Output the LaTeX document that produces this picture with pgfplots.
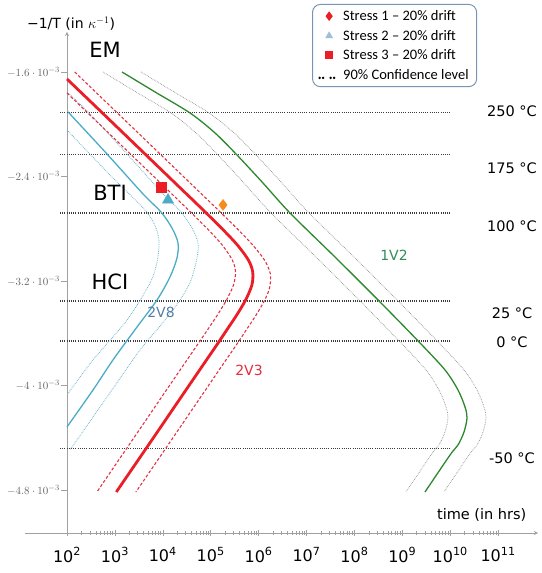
\documentclass[border=0pt]{standalone}
\usepackage{fontspec}
\setmainfont{DejaVu Sans}
\newfontfamily\carlito{Carlito}
\usepackage{pgfplots}
\pgfplotsset{compat=1.18}

\definecolor{redmain}{RGB}{235,30,40}
\definecolor{reddash}{RGB}{225,50,70}
\definecolor{tealmain}{RGB}{75,172,198}
\definecolor{tealdot}{RGB}{110,180,205}
\definecolor{greenmain}{RGB}{45,135,45}
\definecolor{greydot}{RGB}{140,140,140}
\definecolor{hlinec}{RGB}{60,60,60}
\definecolor{orangemk}{RGB}{245,140,30}
\definecolor{legtri}{RGB}{160,190,215}
\definecolor{lab2v8}{RGB}{85,125,170}
\definecolor{lab2v3}{RGB}{225,45,60}
\definecolor{lab1v2}{RGB}{50,140,90}
\definecolor{axisgrey}{RGB}{160,160,160}
\definecolor{labelgrey}{RGB}{100,100,100}
\definecolor{legborder}{RGB}{120,150,180}

\newcommand\fs[1]{\fontsize{#1}{#1}\selectfont}

\begin{document}
\begin{tikzpicture}
\useasboundingbox (-25pt,-40pt) rectangle (516pt,533pt);
\begin{axis}[
  scale only axis, width=513pt, height=501pt,
  xmin=1.123, xmax=11.833, ymin=-5.130, ymax=-1.294,
  axis x line=bottom, axis y line=left,
  axis y line shift=-42pt,
  axis line style={draw=axisgrey, line width=0.8pt},
  x axis line style={-stealth}, y axis line style={-stealth},
  xtick={2,...,11},
  xticklabels={10\textsuperscript{2},10\textsuperscript{3},10\textsuperscript{4},10\textsuperscript{5},10\textsuperscript{6},10\textsuperscript{7},10\textsuperscript{8},10\textsuperscript{9},10\textsuperscript{10},10\textsuperscript{11}},
  minor xtick={2.301,2.477,2.602,2.699,2.778,2.845,2.903,2.954,
    3.301,3.477,3.602,3.699,3.778,3.845,3.903,3.954,
    4.301,4.477,4.602,4.699,4.778,4.845,4.903,4.954,
    5.301,5.477,5.602,5.699,5.778,5.845,5.903,5.954,
    6.301,6.477,6.602,6.699,6.778,6.845,6.903,6.954,
    7.301,7.477,7.602,7.699,7.778,7.845,7.903,7.954,
    8.301,8.477,8.602,8.699,8.778,8.845,8.903,8.954,
    9.301,9.477,9.602,9.699,9.778,9.845,9.903,9.954,
    10.301,10.477,10.602,10.699,10.778,10.845,10.903,10.954},
  xtick align=center, ytick align=outside,
  major tick length=6pt, minor tick length=4pt,
  tick style={draw=axisgrey, line width=0.6pt},
  xticklabel style={font=\fs{16}, yshift=-8pt},
  ytick={-4.8,-4,-3.2,-2.4,-1.6},
  yticklabels={$-4.8\cdot10^{-3}$,$-4\cdot10^{-3}$,$-3.2\cdot10^{-3}$,$-2.4\cdot10^{-3}$,$-1.6\cdot10^{-3}$},
  yticklabel style={font=\fs{11}, text=labelgrey, inner xsep=1pt},
  clip=false,
  legend cell align=left,
  legend style={at={(axis cs:7.115,-1.079)}, anchor=north west,
    draw=legborder, line width=1pt, rounded corners=8pt,
    font=\carlito\fs{14.5}, row sep=4pt, inner xsep=6pt, inner ysep=4pt,
    /tikz/every odd column/.append style={column sep=6pt}},
]
% temperature levels
\addplot[hlinec, line width=1.3pt, dash pattern=on 1pt off 1.2pt, forget plot] coordinates {(1.854,-1.911) (10.017,-1.911)};
\addplot[hlinec, line width=1.3pt, dash pattern=on 1pt off 1.2pt, forget plot] coordinates {(1.854,-2.231) (10.017,-2.231)};
\addplot[hlinec, line width=1.3pt, dash pattern=on 1pt off 1.2pt, forget plot] coordinates {(1.854,-2.680) (10.017,-2.680)};
\addplot[hlinec, line width=1.3pt, dash pattern=on 1pt off 1.2pt, forget plot] coordinates {(1.854,-3.354) (10.017,-3.354)};
\addplot[hlinec, line width=1.3pt, dash pattern=on 1pt off 1.2pt, forget plot] coordinates {(1.854,-3.661) (10.017,-3.661)};
\addplot[hlinec, line width=1.3pt, dash pattern=on 1pt off 1.2pt, forget plot] coordinates {(1.854,-4.484) (10.017,-4.484)};

% 2V8
\addplot[tealdot, line width=0.8pt, densely dotted, smooth, forget plot] coordinates {
(2.000,-2.044)(2.898,-2.389)(3.628,-2.657)(3.858,-2.795)(3.921,-2.909)(3.879,-3.055)(3.733,-3.216)(3.253,-3.499)(2.543,-3.805)(2.000,-4.073)};
\addplot[tealdot, line width=0.8pt, densely dotted, smooth, forget plot] coordinates {
(2.000,-1.753)(2.438,-1.906)(3.253,-2.228)(4.004,-2.534)(4.380,-2.672)(4.610,-2.795)(4.735,-2.909)(4.714,-3.024)(4.589,-3.193)(4.359,-3.346)(3.962,-3.537)(3.524,-3.729)(2.793,-4.111)(2.063,-4.494)};
\addplot[tealmain, line width=1.3pt, smooth, forget plot] coordinates {
(2.021,-1.906)(2.835,-2.228)(3.587,-2.534)(3.962,-2.672)(4.192,-2.795)(4.317,-2.909)(4.296,-3.024)(4.150,-3.170)(3.879,-3.346)(3.461,-3.553)(2.960,-3.805)(2.543,-4.035)(2.000,-4.318)};

% 2V3
\addplot[reddash, line width=1.1pt, dash pattern=on 3pt off 2pt, smooth, forget plot] coordinates {
(2.161,-1.600)(3.029,-1.906)(3.942,-2.228)(4.722,-2.504)(4.939,-2.580)(5.261,-2.695)(5.580,-2.810)(5.877,-2.925)(6.123,-3.040)(6.246,-3.147)(6.228,-3.254)(6.129,-3.346)(5.948,-3.461)(5.743,-3.575)(5.535,-3.690)(5.319,-3.805)(4.750,-4.111)(4.180,-4.418)(3.438,-4.816)};
\addplot[reddash, line width=1.1pt, dash pattern=on 3pt off 2pt, smooth, forget plot] coordinates {
(2.000,-1.761)(2.411,-1.906)(3.324,-2.228)(4.104,-2.504)(4.319,-2.580)(4.641,-2.695)(4.956,-2.810)(5.240,-2.925)(5.451,-3.040)(5.518,-3.131)(5.476,-3.231)(5.330,-3.346)(5.140,-3.461)(4.933,-3.575)(4.720,-3.690)(4.505,-3.805)(3.935,-4.111)(3.365,-4.418)(2.624,-4.816)};
\addplot[redmain, line width=2.8pt, smooth, forget plot] coordinates {
(2.000,-1.654)(2.716,-1.906)(3.628,-2.228)(4.409,-2.504)(4.626,-2.580)(4.948,-2.695)(5.263,-2.810)(5.557,-2.925)(5.787,-3.040)(5.877,-3.131)(5.860,-3.231)(5.729,-3.346)(5.543,-3.461)(5.336,-3.575)(5.127,-3.690)(4.912,-3.805)(4.342,-4.111)(3.772,-4.418)(3.029,-4.816)};

% 1V2
\addplot[greydot, line width=0.7pt, densely dotted, smooth, forget plot] coordinates {
(2.751,-1.600)(3.440,-1.753)(4.171,-1.914)(4.693,-2.067)(5.152,-2.236)(5.674,-2.442)(6.259,-2.680)(7.198,-3.017)(8.138,-3.361)(8.973,-3.675)(9.495,-3.882)(9.766,-4.035)(9.912,-4.165)(9.954,-4.249)(9.891,-4.357)(9.766,-4.456)(9.599,-4.533)(9.077,-4.816)};
\addplot[greydot, line width=0.7pt, densely dotted, smooth, forget plot] coordinates {
(3.545,-1.600)(4.234,-1.753)(4.965,-1.914)(5.487,-2.067)(5.946,-2.236)(6.468,-2.442)(7.053,-2.680)(7.992,-3.017)(8.932,-3.361)(9.767,-3.675)(10.289,-3.882)(10.560,-4.035)(10.706,-4.165)(10.748,-4.249)(10.685,-4.357)(10.560,-4.456)(10.393,-4.533)(9.871,-4.816)};
\addplot[greenmain, line width=1.3pt, smooth, forget plot] coordinates {
(3.148,-1.600)(3.837,-1.753)(4.568,-1.914)(5.090,-2.067)(5.549,-2.236)(6.071,-2.442)(6.656,-2.680)(7.595,-3.017)(8.535,-3.361)(9.370,-3.675)(9.892,-3.882)(10.163,-4.035)(10.309,-4.165)(10.351,-4.249)(10.288,-4.357)(10.163,-4.456)(9.996,-4.533)(9.474,-4.816)};

% stress points
\addplot[only marks, mark=square*, mark size=5pt, color=redmain, forget plot] coordinates {(3.962,-2.481)};
\addplot[only marks, mark=triangle*, mark size=6.5pt, color=tealmain, forget plot] coordinates {(4.109,-2.580)};
\addplot[only marks, mark=diamond*, mark size=5.5pt, color=orangemk, forget plot] coordinates {(5.257,-2.618)};

% legend
\addlegendimage{only marks, mark=diamond*, mark size=4pt, color=redmain}
\addlegendentry{Stress 1 – 20\% drift}
\addlegendimage{only marks, mark=triangle*, mark size=3.5pt, color=legtri}
\addlegendentry{Stress 2 – 20\% drift}
\addlegendimage{only marks, mark=square*, mark size=3.5pt, color=redmain}
\addlegendentry{Stress 3 – 20\% drift}
\addlegendimage{legend image code/.code={
  \fill[black] (-1pt,-3pt) circle (0.6pt); \fill[black] (2.5pt,-3pt) circle (0.6pt);
  \fill[black] (10pt,-3pt) circle (0.6pt); \fill[black] (13.5pt,-3pt) circle (0.6pt);}}
\addlegendentry{90\% Confidence level}

% labels
\node[font=\fs{21}] at (axis cs:2.793,-1.432) {EM};
\node[font=\fs{21}] at (axis cs:2.898,-2.527) {BTI};
\node[font=\fs{21}] at (axis cs:2.898,-3.208) {HCI};
\node[font=\fs{14}, text=lab2v8] at (axis cs:3.962,-3.438) {2V8};
\node[font=\fs{14}, text=lab2v3] at (axis cs:5.800,-3.882) {2V3};
\node[font=\fs{14}, text=lab1v2] at (axis cs:8.827,-3.001) {1V2};
\node[font=\fs{14.5}] at (axis cs:11.29,-1.899) {250 °C};
\node[font=\fs{14.5}] at (axis cs:11.29,-2.335) {175 °C};
\node[font=\fs{14.5}] at (axis cs:11.29,-2.779) {100 °C};
\node[font=\fs{14.5}] at (axis cs:11.29,-3.445) {25 °C};
\node[font=\fs{14.5}] at (axis cs:11.29,-3.667) {0 °C};
\node[font=\fs{14.5}] at (axis cs:11.29,-4.556) {-50 °C};
\node[font=\fs{14.5}] at (axis cs:10.658,-4.992) {time (in hrs)};
\node[font=\fs{14}, fill=white, inner sep=1pt] at (axis cs:2.084,-1.232) {−1/T (in $\kappa^{-1}$)};
\end{axis}
\end{tikzpicture}
\end{document}
